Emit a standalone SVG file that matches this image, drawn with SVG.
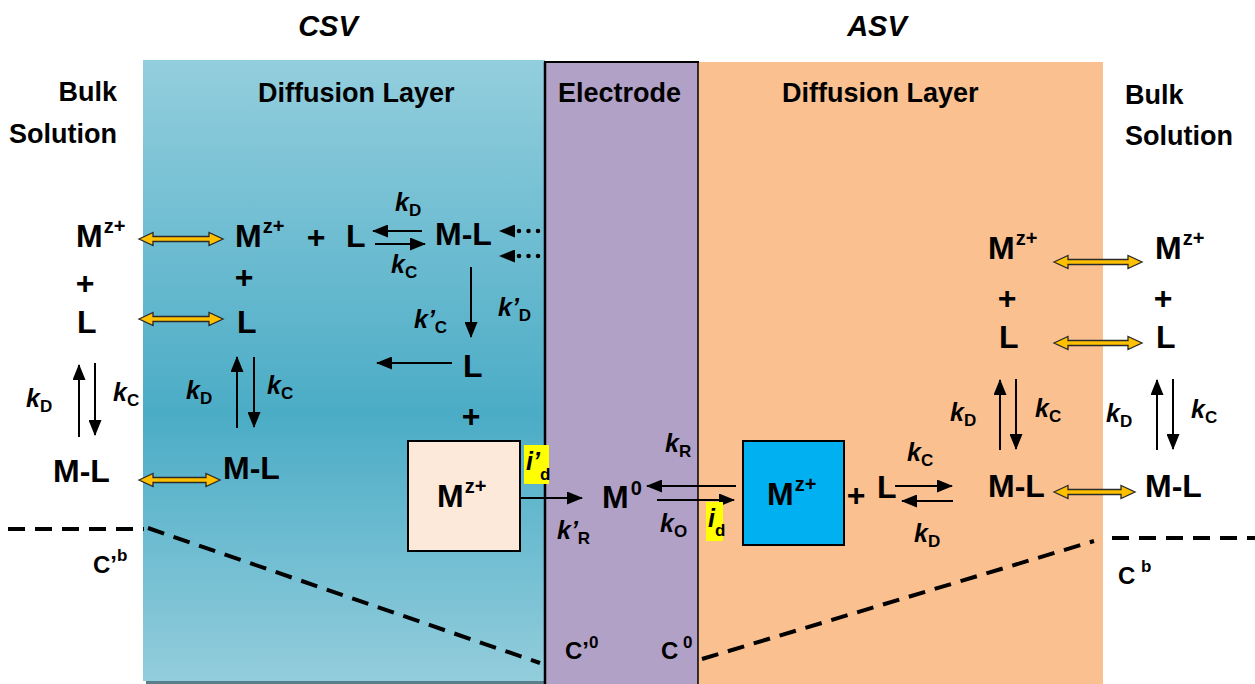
<svg xmlns="http://www.w3.org/2000/svg" width="1255" height="684" viewBox="0 0 1255 684">
<style>
text{font-family:"Liberation Sans",Arial,sans-serif;font-weight:bold;fill:#000}
.h{font-size:27px}
.t{font-size:29px;font-style:italic}
.s{font-size:32px}
.su{font-size:20px}
.k{font-size:25px;font-style:italic}
.sb{font-size:17px;font-style:normal}
.c{font-size:24px}
.cs{font-size:17px}
.ar{stroke:#000;stroke-width:2;fill:none;marker-end:url(#ah)}
.dot{stroke:#000;stroke-width:4.5;stroke-linecap:round;stroke-dasharray:0 9.5;fill:none;marker-end:url(#ah)}
.ya{fill:#FFC000;stroke:#2b2b2b;stroke-width:1.3;stroke-linejoin:miter}
.dash{stroke:#000;stroke-width:4;stroke-dasharray:17 10;fill:none}
.hl{fill:#FFFF00}
</style>
<defs>
<linearGradient id="gBlue" x1="0" y1="0" x2="0" y2="1">
<stop offset="0" stop-color="#93CEDD"/>
<stop offset="0.57" stop-color="#4BACC6"/>
<stop offset="1" stop-color="#93CDDC"/>
</linearGradient>
<marker id="ah" markerWidth="16" markerHeight="13" refX="15" refY="6.5" orient="auto" markerUnits="userSpaceOnUse">
<path d="M0,0 L16,6.5 L0,13 Z" fill="#000"/>
</marker>
</defs>

<g id="background">
<rect x="143" y="60" width="402" height="621" fill="url(#gBlue)"/>
<rect x="146" y="681" width="399" height="3" fill="#5A7E8A"/>
<rect x="698" y="62" width="405" height="622" fill="#FAC090"/>
<rect x="545" y="62" width="153" height="622" fill="#B2A1C7"/>
<line x1="545" y1="62" x2="545" y2="684" stroke="#000" stroke-width="2.5"/>
<line x1="544" y1="62" x2="699" y2="62" stroke="#000" stroke-width="2"/>
<line x1="698" y1="62" x2="698" y2="684" stroke="#000" stroke-width="1.5"/>
</g>

<g id="titles">
<text class="t" x="328" y="36" text-anchor="middle">CSV</text>
<text class="t" x="877" y="36" text-anchor="middle">ASV</text>
<text class="h" x="117" y="101" text-anchor="end">Bulk</text>
<text class="h" x="117" y="143" text-anchor="end">Solution</text>
<text class="h" x="258" y="102">Diffusion Layer</text>
<text class="h" x="558" y="102">Electrode</text>
<text class="h" x="782" y="102">Diffusion Layer</text>
<text class="h" x="1125" y="104">Bulk</text>
<text class="h" x="1125" y="145">Solution</text>
</g>

<g id="concentration">
<line class="dash" x1="8" y1="529" x2="144" y2="529"/>
<line class="dash" x1="148" y1="528" x2="540" y2="663"/>
<line class="dash" x1="702" y1="659" x2="1094" y2="541"/>
<line class="dash" x1="1112" y1="538" x2="1255" y2="538"/>
<text class="c" x="93" y="573">C’<tspan class="cs" dy="-12">b</tspan></text>
<text class="c" x="1118" y="584">C<tspan class="cs" x="1141" dy="-12">b</tspan></text>
<text class="c" x="565" y="659">C’<tspan class="cs" dy="-11">0</tspan></text>
<text class="c" x="661" y="659">C<tspan class="cs" x="683" dy="-11">0</tspan></text>
</g>

<g id="connectors">
<path class="ya" d="M139,239 L153,232.5 L153,236.5 L209,236.5 L209,232.5 L223,239 L209,245.5 L209,241.5 L153,241.5 L153,245.5 Z"/>
<path class="ya" d="M139,319 L153,312.5 L153,316.5 L209,316.5 L209,312.5 L223,319 L209,325.5 L209,321.5 L153,321.5 L153,325.5 Z"/>
<path class="ya" d="M139,480 L153,473.5 L153,477.5 L206,477.5 L206,473.5 L220,480 L206,486.5 L206,482.5 L153,482.5 L153,486.5 Z"/>
<path class="ya" d="M1054,262 L1068,255.5 L1068,259.5 L1128,259.5 L1128,255.5 L1142,262 L1128,268.5 L1128,264.5 L1068,264.5 L1068,268.5 Z"/>
<path class="ya" d="M1054,343 L1068,336.5 L1068,340.5 L1128,340.5 L1128,336.5 L1142,343 L1128,349.5 L1128,345.5 L1068,345.5 L1068,349.5 Z"/>
<path class="ya" d="M1054,492 L1068,485.5 L1068,489.5 L1121,489.5 L1121,485.5 L1135,492 L1121,498.5 L1121,494.5 L1068,494.5 L1068,498.5 Z"/>
<line class="ar" x1="79" y1="437" x2="79" y2="365"/>
<line class="ar" x1="95" y1="363" x2="95" y2="435"/>
<line class="ar" x1="237" y1="428" x2="237" y2="357"/>
<line class="ar" x1="254" y1="357" x2="254" y2="427"/>
<line class="ar" x1="422" y1="231" x2="373" y2="231"/>
<line class="ar" x1="375" y1="244" x2="425" y2="244"/>
<line class="dot" x1="538" y1="231" x2="500" y2="231"/>
<line class="dot" x1="538" y1="256" x2="500" y2="256"/>
<line class="ar" x1="471" y1="267" x2="471" y2="337"/>
<line class="ar" x1="452" y1="363" x2="377" y2="363"/>
<line class="ar" x1="520" y1="498" x2="582" y2="498"/>
<line class="ar" x1="736" y1="486" x2="647" y2="486"/>
<line class="ar" x1="657" y1="500" x2="734" y2="500"/>
<line class="ar" x1="895" y1="486" x2="952" y2="486"/>
<line class="ar" x1="953" y1="501" x2="902" y2="501"/>
<line class="ar" x1="1000" y1="450" x2="1000" y2="380"/>
<line class="ar" x1="1016" y1="379" x2="1016" y2="449"/>
<line class="ar" x1="1157" y1="450" x2="1157" y2="380"/>
<line class="ar" x1="1173" y1="379" x2="1173" y2="449"/>
</g>

<g id="rate-labels">
<text class="k" x="26" y="407">k<tspan class="sb" dy="5">D</tspan></text>
<text class="k" x="113" y="401">k<tspan class="sb" dy="5">C</tspan></text>
<text class="k" x="186" y="399">k<tspan class="sb" dy="5">D</tspan></text>
<text class="k" x="267" y="394">k<tspan class="sb" dy="5">C</tspan></text>
<text class="k" x="395" y="211">k<tspan class="sb" dy="5">D</tspan></text>
<text class="k" x="391" y="273">k<tspan class="sb" dy="5">C</tspan></text>
<text class="k" x="414" y="328">k’<tspan class="sb" dy="5">C</tspan></text>
<text class="k" x="498" y="316">k’<tspan class="sb" dy="5">D</tspan></text>
<text class="k" x="557" y="539">k’<tspan class="sb" dy="5">R</tspan></text>
<text class="k" x="665" y="452">k<tspan class="sb" dy="5">R</tspan></text>
<text class="k" x="660" y="532">k<tspan class="sb" dy="5">O</tspan></text>
<text class="k" x="907" y="461">k<tspan class="sb" dy="5">C</tspan></text>
<text class="k" x="914" y="542">k<tspan class="sb" dy="5">D</tspan></text>
<text class="k" x="950" y="421">k<tspan class="sb" dy="5">D</tspan></text>
<text class="k" x="1035" y="417">k<tspan class="sb" dy="5">C</tspan></text>
<text class="k" x="1106" y="422">k<tspan class="sb" dy="5">D</tspan></text>
<text class="k" x="1191" y="418">k<tspan class="sb" dy="5">C</tspan></text>
</g>

<g id="currents">
<rect class="hl" x="524" y="445" width="25" height="39"/>
<text class="k" x="526" y="470">i’<tspan class="sb" dy="10">d</tspan></text>
<rect class="hl" x="706" y="502" width="17" height="39"/>
<text class="k" x="708" y="527">i<tspan class="sb" dy="9">d</tspan></text>
</g>

<g id="bulk-left">
<text class="s" x="76" y="247">M<tspan class="su" dx="1" dy="-14">z+</tspan></text>
<text class="s" x="85" y="294" text-anchor="middle">+</text>
<text class="s" x="77" y="333">L</text>
<text class="s" x="53" y="482">M-L</text>
</g>

<g id="diffusion-csv">
<text class="s" x="235" y="247">M<tspan class="su" dx="1" dy="-14">z+</tspan></text>
<text class="s" x="316" y="248" text-anchor="middle">+</text>
<text class="s" x="346" y="247">L</text>
<text class="s" x="244" y="288" text-anchor="middle">+</text>
<text class="s" x="237" y="333">L</text>
<text class="s" x="223" y="479">M-L</text>
<text class="s" x="435" y="245">M-L</text>
<text class="s" x="463" y="377">L</text>
<text class="s" x="471" y="427" text-anchor="middle">+</text>
</g>

<g id="box-csv">
<rect x="408" y="441" width="112" height="110" fill="#FDE9D9" stroke="#000" stroke-width="2"/>
<text class="s" x="437" y="507">M<tspan class="su" dx="1" dy="-14">z+</tspan></text>
</g>

<g id="electrode-M0">
<text class="s" x="602" y="508">M<tspan class="su" dx="2" dy="-13" font-size="23px">0</tspan></text>
</g>

<g id="box-asv">
<rect x="743" y="441" width="101" height="104" fill="#00B0F0" stroke="#000" stroke-width="2"/>
<text class="s" x="767" y="505">M<tspan class="su" dx="1" dy="-14">z+</tspan></text>
</g>

<g id="diffusion-asv">
<text class="s" x="856" y="506" text-anchor="middle">+</text>
<text class="s" x="877" y="498">L</text>
<text class="s" x="988" y="497">M-L</text>
<text class="s" x="988" y="259">M<tspan class="su" dx="1" dy="-14">z+</tspan></text>
<text class="s" x="1007" y="309" text-anchor="middle">+</text>
<text class="s" x="999" y="348">L</text>
</g>

<g id="bulk-right">
<text class="s" x="1145" y="497">M-L</text>
<text class="s" x="1155" y="259">M<tspan class="su" dx="1" dy="-14">z+</tspan></text>
<text class="s" x="1163" y="309" text-anchor="middle">+</text>
<text class="s" x="1156" y="348">L</text>
</g>
</svg>
